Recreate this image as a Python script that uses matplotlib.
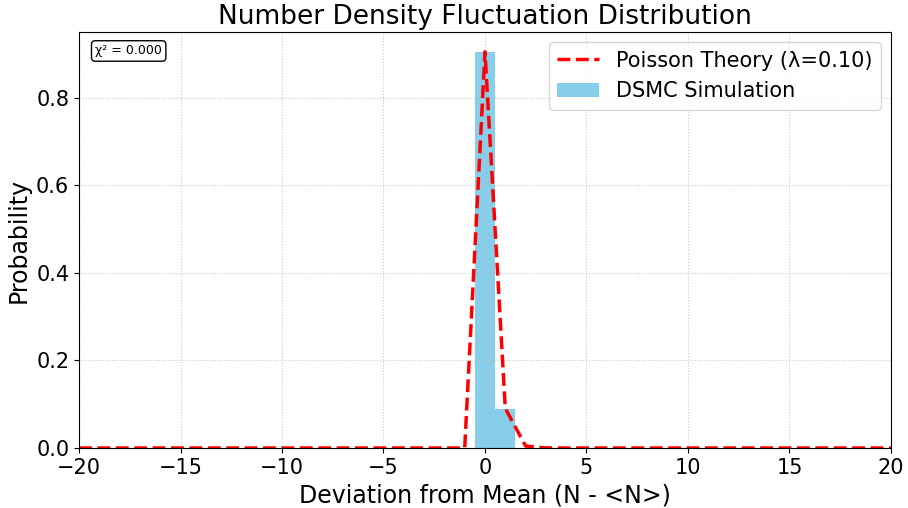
import matplotlib
matplotlib.use("Agg")
import matplotlib.pyplot as plt
import numpy as np

# Data
lam = 0.10
sim_dev = [0, 1]
sim_prob = [0.905, 0.090]
theory_dev = list(range(-20, 21))
theory_prob = [0.0] * 20 + [0.9048, 0.0905, 0.0045, 0.00015] + [0.0] * 17

fig = plt.figure(figsize=(9.08, 5.08), dpi=100)
ax = fig.add_axes([79/908, 1 - 448/508, (891-79)/908, (448-32)/508])

ax.bar(sim_dev, sim_prob, width=1.0, color='#87CEEB', label='DSMC Simulation')
ax.plot(theory_dev, theory_prob, 'r--', lw=2.5, label='Poisson Theory (λ=0.10)')

ax.set_xlim(-20, 20)
ax.set_ylim(0, 0.95)
ax.set_title('Number Density Fluctuation Distribution', fontsize=19)
ax.set_xlabel('Deviation from Mean (N - <N>)', fontsize=17)
ax.set_ylabel('Probability', fontsize=17)
ax.tick_params(labelsize=15)
ax.grid(True, linestyle=':', color='#bbbbbb', alpha=0.8)

ax.legend(fontsize=15, loc='upper right')

ax.text(0.02, 0.97, 'χ² = 0.000', transform=ax.transAxes, fontsize=9,
        va='top', ha='left',
        bbox=dict(boxstyle='round,pad=0.3', facecolor='white', edgecolor='black'))

fig.savefig('out.png', dpi=100)
